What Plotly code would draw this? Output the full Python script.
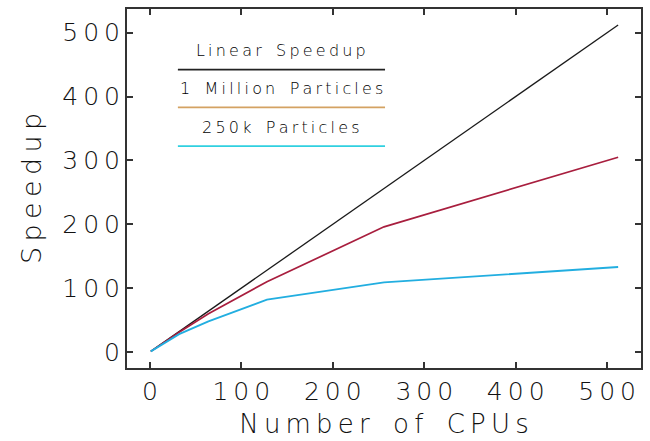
import plotly.graph_objects as go

cpus_linear = [1, 512]
speedup_linear = [1, 512]
cpus_1m = [1, 32, 64, 128, 256, 512]
speedup_1m = [1, 31, 60, 110, 196, 305]
cpus_250k = [1, 32, 64, 128, 256, 512]
speedup_250k = [1, 28, 48, 82, 109, 133]
tick_values = [0, 100, 200, 300, 400, 500]
tick_labels = ["0", "100", "200", "300", "400", "500"]
legend_labels = ["Linear Speedup", "1 Million Particles", "250k Particles"]
legend_colors = ["#222222", "#d4a262", "#30d0e0"]
x_title = "Number of CPUs"
y_title = "Speedup"

FONT = "DejaVu Sans"
TS = "\u2009"


def spaced(s):
    return TS.join("\u2002" if c == " " else c for c in s)


fig = go.Figure()
fig.add_trace(go.Scatter(x=cpus_linear, y=speedup_linear, mode="lines",
                         line=dict(color="#1a1a1a", width=1.3), name=legend_labels[0]))
fig.add_trace(go.Scatter(x=cpus_1m, y=speedup_1m, mode="lines",
                         line=dict(color="#a81e3e", width=1.7), name=legend_labels[1]))
fig.add_trace(go.Scatter(x=cpus_250k, y=speedup_250k, mode="lines",
                         line=dict(color="#22aee0", width=1.9), name=legend_labels[2]))

# custom legend: text above a coloured line
x0, x1 = 0.099, 0.502
text_y = [0.884, 0.778, 0.670]
line_y = [0.831, 0.726, 0.618]
for lab, col, ty, ly in zip(legend_labels, legend_colors, text_y, line_y):
    fig.add_annotation(x=(x0 + x1) / 2, y=ty, xref="paper", yref="paper", text=spaced(lab),
                       showarrow=False, xanchor="center", yanchor="middle",
                       font=dict(family=FONT, size=16, color="#000", weight=200))
    fig.add_shape(type="line", xref="paper", yref="paper", x0=x0, x1=x1, y0=ly, y1=ly,
                  line=dict(color=col, width=1.6))

axis_common = dict(showgrid=False, zeroline=False, showline=True, linecolor="#333",
                   linewidth=2, mirror="allticks", ticks="inside", ticklen=6,
                   tickcolor="#333", tickwidth=1.5, range=[-25, 537],
                   tickvals=tick_values, ticktext=[spaced(t) for t in tick_labels],
                   tickfont=dict(family=FONT, size=25, color="#111", weight=200))
fig.update_xaxes(**axis_common, title=dict(text=spaced(x_title), standoff=10,
                 font=dict(family=FONT, size=26, color="#111", weight=200)))
fig.update_yaxes(**axis_common, title=dict(text=spaced(y_title), standoff=13,
                 font=dict(family=FONT, size=27, color="#111", weight=200)))
fig.update_layout(width=650, height=441, margin=dict(l=127, r=7, t=8, b=72),
                  plot_bgcolor="white", paper_bgcolor="white", showlegend=False)
fig.write_html("out.html")
